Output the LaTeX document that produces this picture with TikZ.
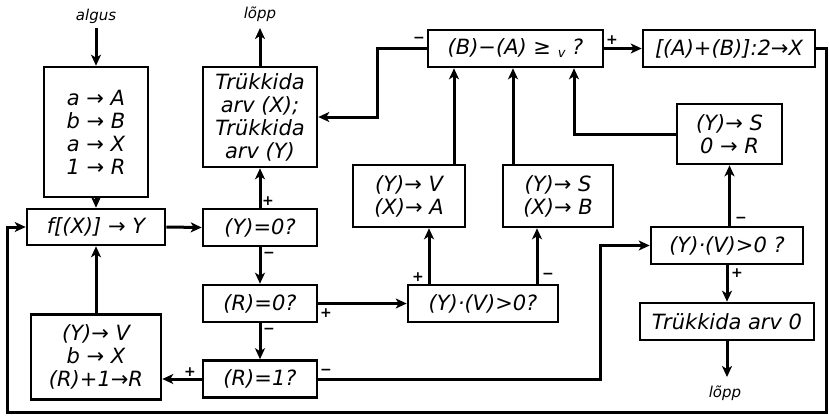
\documentclass[tikz,border=0pt]{standalone}
\usepackage{fontspec}
\setmainfont{DejaVu Sans}
\usetikzlibrary{arrows.meta,calc}

\begin{document}
\begin{tikzpicture}[x=1pt,y=-1pt,
  box/.style={draw, line width=2.6pt, rectangle, inner sep=0pt, align=center,
              font=\fontsize{21}{23}\selectfont\itshape},
  arr/.style={line width=3pt, -{Stealth[length=11pt,width=10pt,inset=3pt]}},
  sg/.style={font=\fontsize{14}{14}\selectfont\bfseries, inner sep=0pt},
  term/.style={font=\fontsize{15}{15}\selectfont\itshape, inner sep=0pt}]
\useasboundingbox (0,0) rectangle (829,415);

% process and decision boxes
\node[box, minimum width=104pt, minimum height=130pt] (init) at (96,132)
  {a → A\\ b → B\\ a → X\\ 1 → R};
\node[box, minimum width=138pt, minimum height=36pt] (f) at (96,227) {f[(X)] → Y};
\node[box, minimum width=130pt, minimum height=85pt] (upd) at (96,357)
  {(Y)→ V\\ b → X\\ (R)+1→R};
\node[box, minimum width=114pt, minimum height=100pt] (pr) at (260,117)
  {Trükkida\\ arv (X);\\ Trükkida\\ arv (Y)};
\node[box, minimum width=114pt, minimum height=37pt] (yz) at (260,227.5) {(Y)=0?};
\node[box, minimum width=114pt, minimum height=37pt] (r0) at (260,303.5) {(R)=0?};
\node[box, minimum width=114pt, minimum height=37pt] (r1) at (260,379) {(R)=1?};
\node[box, minimum width=150pt, minimum height=37pt] (yv1) at (483,303.5) {(Y)·(V)>0?};
\node[box, minimum width=112pt, minimum height=62pt] (av) at (409,196) {(Y)→ V\\ (X)→ A};
\node[box, minimum width=110pt, minimum height=62pt] (sb) at (558,196) {(Y)→ S\\ (X)→ B};
\node[box, minimum width=175pt, minimum height=37pt] (ba) at (515.5,48.5)
  {(B)−(A) ≥ \raisebox{-3pt}{\fontsize{13}{13}\selectfont v} ?};
\node[box, minimum width=172pt, minimum height=37pt] (xb) at (729,48.5) {[(A)+(B)]:2→X};
\node[box, minimum width=105pt, minimum height=60pt] (sr) at (729.5,134) {(Y)→ S\\ 0 → R};
\node[box, minimum width=152pt, minimum height=37pt] (yv2) at (727,245.5) {(Y)·(V)>0 ?};
\node[box, minimum width=174pt, minimum height=37pt] (p0) at (727,321.5) {Trükkida arv 0};

% start and end marks
\node[term] (start) at (96,16) {algus};
\node[term] (end1) at (260,14) {lõpp};
\node[term] (end2) at (725,393) {lõpp};
\coordinate (s1) at (96,28);
\coordinate (e1) at (260,28);
\coordinate (e2) at (727,377);

% x positions of vertical connectors
\coordinate (xa) at (429,0);
\coordinate (xb1) at (454,0);
\coordinate (xs) at (537,0);
\coordinate (xb2) at (513,0);
\coordinate (xr) at (574,0);
\coordinate (xk) at (377,0);
\coordinate (xq) at (600,0);
\coordinate (rc) at (826,412);
\coordinate (lc) at (7,412);

% connectors
\draw[arr] (s1) -- (init.north);
\draw[arr] (init.south) -- (f.north);
\draw[arr] (upd.north) -- (f.south);
\draw[arr] (f.east) -- (yz.west);
\draw[arr] (yz.north) -- (pr.south);
\draw[arr] (pr.north) -- (e1);
\draw[arr] (yz.south) -- (r0.north);
\draw[arr] (r0.south) -- (r1.north);
\draw[arr] (r1.west) -- (upd.east |- r1.west);
\draw[arr] (r0.east) -- (yv1.west);
\draw[arr] (yv1.north -| xa) -- (av.south -| xa);
\draw[arr] (yv1.north -| xs) -- (sb.south -| xs);
\draw[arr] (av.north -| xb1) -- (ba.south -| xb1);
\draw[arr] (sb.north -| xb2) -- (ba.south -| xb2);
\draw[arr] (sr.west) -| (xr |- ba.south);
\draw[arr] (ba.west) -| (xk |- pr.east) -- (pr.east);
\draw[arr] (ba.east) -- (xb.west);
\draw[arr] (r1.east) -| (xq |- yv2.west) -- (yv2.west);
\draw[arr] (yv2.north -| sr.south) -- (sr.south);
\draw[arr] (yv2.south) -- (p0.north);
\draw[arr] (p0.south) -- (e2);
\draw[arr] (xb.east) -| (rc) -- (lc) |- (f.west);

% branch signs
\node[sg] (g1) at (268,201) {+};
\node[sg] (g2) at (269,255) {−};
\node[sg] (g3) at (326,313) {+};
\node[sg] (g4) at (269,331) {−};
\node[sg] (g5) at (190,372) {+};
\node[sg] (g6) at (326,372) {−};
\node[sg] (g7) at (418,277) {+};
\node[sg] (g8) at (548,276) {−};
\node[sg] (g9) at (419,40) {−};
\node[sg] (g10) at (612,40) {+};
\node[sg] (g11) at (741,220) {−};
\node[sg] (g12) at (737,273) {+};
\end{tikzpicture}
\end{document}
